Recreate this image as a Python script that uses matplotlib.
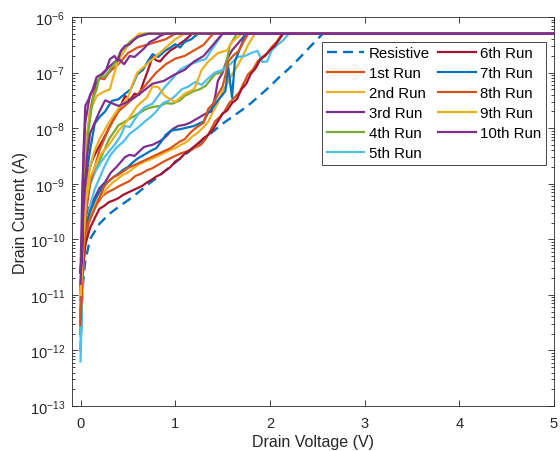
import numpy as np
import matplotlib
matplotlib.use("Agg")
import matplotlib.pyplot as plt
from matplotlib.ticker import LogLocator, NullFormatter

plt.rcParams['font.family'] = ['Liberation Sans', 'DejaVu Sans']

# compliance current (A), log10
comp = -6.30
v_end = 5.0

# resistive reference
res_v = [0.0, 0.02, 0.05, 0.1, 0.2, 0.3, 0.4, 0.5, 0.6, 0.7, 0.8, 0.9, 1.0, 1.1, 1.2, 1.3,
         1.4, 1.5, 1.6, 1.7, 1.8, 1.9, 2.0, 2.1, 2.2, 2.3, 2.4, 2.5, 2.56, 5.0]
res_log = [-12.0, -10.9, -10.4, -10.0, -9.72, -9.55, -9.42, -9.3, -9.17, -9.03, -8.9, -8.76,
           -8.62, -8.48, -8.35, -8.2, -8.06, -7.92, -7.80, -7.68, -7.55, -7.40, -7.25, -7.08,
           -6.93, -6.76, -6.58, -6.40, -6.30, -6.30]

# run 1 (orange)
r1f_v = [0, 0.02, 0.05, 0.08, 0.13, 0.18, 0.23, 0.29, 0.35, 0.4, 0.46, 0.52, 0.58, 0.64, 0.7,
         0.76, 0.82, 0.88, 0.94, 1.0, 1.05, 1.1, 1.16, 1.21, 1.27, 1.32, 1.37, 1.42, 1.47, 1.52,
         1.57, 1.63, 1.68, 1.72, 1.77, 1.82, 1.87, 1.92, 1.97, 2.02, 2.07, 2.13]
r1f_log = [-11.55, -10.7, -10.1, -9.72, -9.5, -9.35, -9.22, -9.15, -9.1, -9.05, -9.0, -8.95,
           -8.86, -8.82, -8.76, -8.72, -8.66, -8.6, -8.55, -8.5, -8.46, -8.43, -8.4, -8.35,
           -8.3, -8.2, -8.05, -7.88, -7.8, -7.7, -7.55, -7.44, -7.35, -7.2, -7.03, -6.95,
           -6.8, -6.72, -6.65, -6.54, -6.45, -6.30]
r1r_v = [0, 0.02, 0.04, 0.06, 0.1, 0.15, 0.2, 0.25, 0.3, 0.35, 0.4, 0.45, 0.5, 0.55, 0.6, 0.7,
         0.8, 0.9, 1.0]
r1r_log = [-11.5, -9.6, -8.8, -8.3, -7.7, -7.3, -7.1, -7.12, -7.0, -6.92, -6.85, -6.75, -6.65,
           -6.6, -6.55, -6.5, -6.45, -6.4, -6.30]

# run 2 (yellow)
r2f_v = [0, 0.02, 0.05, 0.1, 0.15, 0.22, 0.28, 0.34, 0.4, 0.45, 0.5, 0.56, 0.62, 0.68, 0.76,
         0.82, 0.88, 0.94, 1.0, 1.06, 1.12, 1.18, 1.24, 1.3, 1.35, 1.4, 1.45, 1.5, 1.55, 1.6,
         1.65, 1.71, 1.77, 1.84]
r2f_log = [-11.0, -10.4, -9.9, -9.55, -9.35, -9.22, -9.08, -8.98, -8.9, -8.84, -8.8, -8.72,
           -8.65, -8.6, -8.55, -8.5, -8.45, -8.4, -8.36, -8.3, -8.25, -8.15, -8.08, -7.98,
           -7.88, -7.7, -7.55, -7.33, -7.2, -7.03, -6.9, -6.72, -6.5, -6.30]
r2r_v = [0, 0.02, 0.05, 0.1, 0.17, 0.24, 0.31, 0.35, 0.38, 0.42, 0.47, 0.52, 0.57, 0.62]
r2r_log = [-11.0, -9.6, -8.4, -7.7, -7.42, -7.35, -7.3, -7.05, -6.88, -6.72, -6.6, -6.45,
           -6.38, -6.30]

# run 3 (purple)
r3f_v = [0, 0.02, 0.05, 0.1, 0.15, 0.2, 0.26, 0.32, 0.38, 0.42, 0.47, 0.52, 0.57, 0.62, 0.67,
         0.71, 0.76, 0.82, 0.87, 0.92, 0.97, 1.03, 1.1, 1.16, 1.21, 1.26, 1.32, 1.38, 1.42,
         1.45, 1.5, 1.55, 1.6, 1.65, 1.7, 1.75]
r3f_log = [-10.6, -10.0, -9.6, -9.4, -9.25, -9.08, -8.97, -8.8, -8.7, -8.62, -8.52, -8.48,
           -8.5, -8.42, -8.34, -8.32, -8.3, -8.25, -8.2, -8.12, -8.02, -7.96, -7.94, -7.9,
           -7.85, -7.8, -7.74, -7.7, -7.45, -7.15, -7.0, -6.75, -6.6, -6.5, -6.4, -6.30]
r3r_v = [0, 0.02, 0.05, 0.1, 0.2, 0.3, 0.4, 0.46, 0.52, 0.57, 0.63, 0.68, 0.73, 0.79, 0.84,
         0.9]
r3r_log = [-10.6, -9.0, -7.9, -7.4, -7.1, -6.9, -6.75, -6.85, -6.7, -6.72, -6.63, -6.55,
           -6.45, -6.4, -6.34, -6.30]

# run 4 (green)
r4f_v = [0, 0.03, 0.06, 0.1, 0.2, 0.3, 0.4, 0.5, 0.6, 0.7, 0.76, 0.84, 0.9, 0.97, 1.05, 1.1,
         1.2, 1.26, 1.32, 1.42, 1.48, 1.53, 1.58, 1.65]
r4f_log = [-11.7, -10.2, -9.4, -9.0, -8.6, -8.2, -7.95, -7.85, -7.75, -7.65, -7.62, -7.6,
           -7.55, -7.56, -7.5, -7.42, -7.33, -7.3, -7.24, -7.03, -7.0, -6.9, -6.5, -6.30]
r4r_v = [0, 0.02, 0.05, 0.08, 0.13, 0.17, 0.2, 0.25, 0.3, 0.34, 0.38, 0.42, 0.47, 0.52, 0.57,
         0.62, 0.68]
r4r_log = [-11.75, -10.3, -9.0, -8.1, -7.47, -7.3, -7.06, -7.08, -6.98, -6.88, -6.8, -6.63,
           -6.55, -6.45, -6.4, -6.35, -6.30]

# run 5 (light blue)
r5f_v = [0, 0.02, 0.05, 0.1, 0.15, 0.2, 0.25, 0.31, 0.38, 0.45, 0.52, 0.6, 0.68, 0.74, 0.8,
         0.87, 0.94, 1.0, 1.07, 1.14, 1.21, 1.28, 1.35, 1.42, 1.5, 1.58, 1.66, 1.74, 1.8, 1.87,
         1.92, 1.97, 2.02, 2.08, 2.14, 2.2]
r5f_log = [-12.2, -10.8, -9.9, -9.4, -9.1, -8.9, -8.7, -8.5, -8.35, -8.25, -8.1, -8.0, -7.88,
           -7.8, -7.7, -7.55, -7.5, -7.42, -7.3, -7.25, -7.17, -7.22, -7.1, -7.0, -6.95, -6.85,
           -6.72, -6.7, -6.65, -6.61, -6.81, -6.8, -6.6, -6.5, -6.42, -6.30]
r5r_v = [0, 0.02, 0.05, 0.08, 0.15, 0.22, 0.3, 0.36, 0.42, 0.47, 0.52, 0.57, 0.62, 0.68, 0.76,
         0.82, 0.89, 0.95, 1.0, 1.05, 1.1, 1.16, 1.21, 1.27, 1.32, 1.38, 1.44, 1.5]
r5r_log = [-12.0, -10.6, -9.6, -9.1, -8.8, -8.6, -8.42, -8.3, -8.15, -7.96, -7.98, -7.85,
           -7.72, -7.62, -7.56, -7.42, -7.26, -7.15, -7.05, -6.95, -6.9, -6.85, -6.82, -6.78,
           -6.76, -6.6, -6.45, -6.30]

# run 6 (dark red)
r6f_v = [0, 0.02, 0.05, 0.1, 0.15, 0.2, 0.25, 0.3, 0.35, 0.4, 0.45, 0.5, 0.55, 0.6, 0.65, 0.7,
         0.75, 0.8, 0.85, 0.9, 0.95, 1.0, 1.05, 1.1, 1.15, 1.2, 1.25, 1.3, 1.35, 1.4, 1.45,
         1.5, 1.55, 1.6, 1.65, 1.7, 1.75, 1.8, 1.85, 1.9, 1.95, 2.0, 2.05, 2.1, 2.14]
r6f_log = [-11.3, -10.6, -10.1, -9.8, -9.62, -9.45, -9.4, -9.33, -9.3, -9.26, -9.2, -9.16,
           -9.12, -9.08, -9.04, -8.98, -8.93, -8.87, -8.83, -8.76, -8.7, -8.6, -8.55, -8.46,
           -8.4, -8.33, -8.26, -8.18, -8.12, -8.02, -7.88, -7.74, -7.68, -7.55, -7.48, -7.3,
           -7.2, -7.02, -6.92, -6.76, -6.7, -6.6, -6.52, -6.4, -6.30]
r6r_v = [0, 0.02, 0.05, 0.08, 0.13, 0.18, 0.24, 0.3, 0.36, 0.42, 0.47, 0.52, 0.57, 0.62, 0.67,
         0.71, 0.76, 0.8, 0.84, 0.89, 0.95, 1.0, 1.05, 1.1, 1.18]
r6r_log = [-10.9, -10.0, -9.2, -8.8, -8.55, -8.38, -8.2, -8.0, -7.8, -7.62, -7.42, -7.5,
           -7.38, -7.4, -7.15, -6.97, -6.72, -6.78, -6.8, -6.7, -6.6, -6.55, -6.48, -6.42,
           -6.30]

# run 7 (blue)
r7f_v = [0, 0.02, 0.05, 0.1, 0.15, 0.2, 0.25, 0.3, 0.35, 0.4, 0.45, 0.5, 0.55, 0.6, 0.65, 0.7,
         0.75, 0.8, 0.85, 0.9, 0.95, 1.0, 1.05, 1.1, 1.15, 1.2, 1.25, 1.3, 1.35, 1.4, 1.45,
         1.5, 1.53, 1.56, 1.6, 1.63, 1.7, 1.74]
r7f_log = [-11.0, -10.2, -9.8, -9.5, -9.3, -9.15, -9.02, -8.95, -8.88, -8.82, -8.75, -8.7,
           -8.62, -8.55, -8.5, -8.45, -8.4, -8.36, -8.25, -8.12, -8.05, -8.03, -8.02, -8.0,
           -7.98, -7.96, -7.92, -7.88, -7.72, -7.62, -7.5, -7.4, -7.33, -6.9, -7.45, -6.8,
           -6.5, -6.30]
r7r_v = [0, 0.02, 0.05, 0.1, 0.15, 0.2, 0.26, 0.33, 0.4, 0.47, 0.53, 0.6, 0.66, 0.71, 0.76,
         0.82, 0.89, 0.95, 1.0, 1.05, 1.1, 1.17, 1.24]
r7r_log = [-11.1, -10.0, -9.0, -8.4, -7.92, -7.8, -7.7, -7.51, -7.48, -7.38, -7.3, -7.03,
           -6.95, -6.8, -6.67, -6.72, -6.61, -6.55, -6.49, -6.55, -6.45, -6.4, -6.30]

# run 8 (orange)
r8f_v = [0, 0.02, 0.05, 0.1, 0.15, 0.2, 0.25, 0.3, 0.35, 0.4, 0.45, 0.5, 0.55, 0.6, 0.65, 0.7,
         0.75, 0.8, 0.85, 0.9, 0.95, 1.0, 1.05, 1.1, 1.15, 1.2, 1.25, 1.3, 1.35, 1.4, 1.45,
         1.5, 1.53, 1.56, 1.61, 1.67, 1.72, 1.77]
r8f_log = [-11.4, -10.3, -9.9, -9.65, -9.45, -9.25, -9.05, -8.95, -8.88, -8.84, -8.78, -8.72,
           -8.68, -8.64, -8.6, -8.56, -8.52, -8.48, -8.44, -8.4, -8.36, -8.3, -8.24, -8.2,
           -8.1, -8.02, -7.96, -7.9, -7.65, -7.56, -7.4, -7.25, -7.05, -6.8, -6.7, -6.61,
           -6.45, -6.30]
r8r_v = [0, 0.03, 0.06, 0.1, 0.2, 0.3, 0.4, 0.5, 0.6, 0.7, 0.8, 0.9, 1.0, 1.1, 1.2, 1.3, 1.4]
r8r_log = [-11.55, -10.3, -9.5, -9.0, -8.4, -8.0, -7.7, -7.55, -7.4, -7.2, -7.0, -6.85, -6.75,
           -6.7, -6.6, -6.5, -6.30]

# run 9 (yellow)
r9f_v = [0, 0.03, 0.06, 0.1, 0.2, 0.3, 0.4, 0.5, 0.6, 0.7, 0.76, 0.82, 0.89, 1.0, 1.1, 1.2,
         1.28, 1.35, 1.45, 1.55, 1.6, 1.7]
r9f_log = [-11.0, -10.0, -9.3, -8.9, -8.5, -8.3, -8.05, -7.85, -7.6, -7.45, -7.25, -7.26,
           -7.42, -7.53, -7.38, -7.3, -6.95, -6.8, -6.65, -6.6, -6.45, -6.30]
r9r_v = [0, 0.02, 0.05, 0.1, 0.15, 0.2, 0.3, 0.4, 0.5, 0.55, 0.6, 0.7, 0.8, 0.9, 1.0, 1.1]
r9r_log = [-11.0, -10.0, -9.3, -8.7, -8.4, -8.2, -7.9, -7.65, -7.45, -7.2, -7.0, -6.85, -6.7,
           -6.55, -6.4, -6.30]

# run 10 (purple)
r10f_v = [0, 0.03, 0.07, 0.1, 0.15, 0.2, 0.26, 0.33, 0.4, 0.47, 0.57, 0.65, 0.76, 0.88, 1.0,
          1.1, 1.2, 1.3, 1.4, 1.5]
r10f_log = [-10.8, -9.5, -8.5, -8.1, -7.9, -7.7, -7.5, -7.55, -7.6, -7.55, -7.45, -7.35,
            -7.2, -7.15, -7.03, -6.95, -6.8, -6.7, -6.5, -6.30]
r10r_v = [0, 0.02, 0.03, 0.05, 0.08, 0.12, 0.17, 0.22, 0.27, 0.31, 0.36, 0.39, 0.43, 0.47,
          0.52, 0.56, 0.6, 0.66, 0.72]
r10r_log = [-10.6, -10.2, -8.5, -7.6, -7.5, -7.35, -7.08, -7.03, -6.95, -6.76, -6.7, -6.79,
            -6.6, -6.52, -6.49, -6.42, -6.36, -6.33, -6.30]

runs = [
    ("1st Run", r1f_v, r1f_log, r1r_v, r1r_log),
    ("2nd Run", r2f_v, r2f_log, r2r_v, r2r_log),
    ("3rd Run", r3f_v, r3f_log, r3r_v, r3r_log),
    ("4th Run", r4f_v, r4f_log, r4r_v, r4r_log),
    ("5th Run", r5f_v, r5f_log, r5r_v, r5r_log),
    ("6th Run", r6f_v, r6f_log, r6r_v, r6r_log),
    ("7th Run", r7f_v, r7f_log, r7r_v, r7r_log),
    ("8th Run", r8f_v, r8f_log, r8r_v, r8r_log),
    ("9th Run", r9f_v, r9f_log, r9r_v, r9r_log),
    ("10th Run", r10f_v, r10f_log, r10r_v, r10r_log),
]

colors = ['#D95319', '#EDB120', '#7E2F8E', '#77AC30', '#4DBEEE', '#A2142F',
          '#0072BD', '#D95319', '#EDB120', '#7E2F8E']

fig = plt.figure(figsize=(5.6, 4.52), dpi=100)
ax = fig.add_axes([72/560, 45/452, 482/560, 389/452])

ax.semilogy(res_v, 10**np.array(res_log), '--', color='#0072BD', lw=1.7,
            dashes=(4.2, 2.6), label='Resistive')

for (name, fv, flog, rv, rlog), c in zip(runs, colors):
    # sweep up, sit at compliance to 5 V, sweep back down
    v = list(fv) + [v_end] + list(rv)[::-1]
    lg = list(flog) + [comp] + list(rlog)[::-1]
    ax.semilogy(v, 10**np.array(lg), color=c, lw=1.6, label=name)

ax.set_xlim(-0.09, 5)
ax.set_ylim(1e-13, 1e-6)
ax.set_xticks([0, 1, 2, 3, 4, 5])
ax.yaxis.set_major_locator(LogLocator(base=10, numticks=20))
ax.yaxis.set_minor_locator(LogLocator(base=10, subs=np.arange(2, 10), numticks=20))
ax.yaxis.set_minor_formatter(NullFormatter())

ax.tick_params(which='both', direction='in', top=True, right=True, colors='#262626',
               labelsize=10.5, width=0.6)
ax.tick_params(which='major', length=4)
ax.tick_params(which='minor', length=2.2)
ax.tick_params(axis='x', pad=7)
ax.tick_params(axis='y', pad=5)
for s in ax.spines.values():
    s.set_color('#262626')
    s.set_linewidth(0.6)

ax.set_xlabel('Drain Voltage (V)', fontsize=11.5, color='#262626', labelpad=3)
ax.set_ylabel('Drain Current (A)', fontsize=11.5, color='#262626', labelpad=1)

leg = ax.legend(ncol=2, loc='upper right', bbox_to_anchor=(0.983, 0.936),
                borderaxespad=0, fontsize=10.8, fancybox=False, framealpha=1,
                edgecolor='#262626', handlelength=2.5, handletextpad=0.3,
                columnspacing=0.55, labelspacing=0.4, borderpad=0.3)
leg.get_frame().set_linewidth(0.6)

fig.savefig('out.png', dpi=100)
